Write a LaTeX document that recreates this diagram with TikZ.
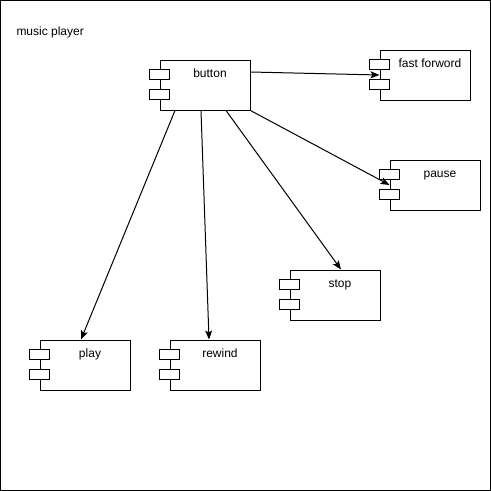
\documentclass[tikz,border=0pt]{standalone}
\usepackage{fontspec}
\setmainfont{Liberation Sans}
\usetikzlibrary{calc,arrows.meta}
\begin{document}
\begin{tikzpicture}[x=1pt,y=-1pt,line width=1pt,
  comp/.style={draw,rectangle,minimum width=90pt,minimum height=50pt,inner sep=0pt,
    label={[anchor=base,yshift=-17.5pt,xshift=5pt,inner sep=0pt,font=\fontsize{12}{14}\selectfont]north:#1}},
  port/.style={draw,fill=white},
  conn/.style={-{Stealth[length=9pt,width=7pt,inset=2pt]}}]
\useasboundingbox (0,0) rectangle (491,491);
\draw (0.5,0.5) rectangle (490.5,490.5);
\node[anchor=base west,font=\fontsize{12}{14}\selectfont,inner sep=0pt] (title) at (16,35) {music player};
\node[comp=button] (btn) at (205,85) {};
\node[comp=fast forword] (ff) at (425,75) {};
\node[comp=pause] (pause) at (435,185) {};
\node[comp=stop] (stop) at (335,295) {};
\node[comp=play] (play) at (85,365) {};
\node[comp=rewind] (rew) at (215,365) {};
\foreach \n in {btn,ff,pause,stop,play,rew}{
  \draw[port] ($(\n.north west)+(-10,10)$) rectangle +(20,10);
  \draw[port] ($(\n.north west)+(-10,30)$) rectangle +(20,10);
}
\draw[conn] ($(btn.east)+(0,-13)$) -- (ff.west);
\draw[conn] (btn.south east) -- (pause.west);
\draw[conn] ($(btn.south)+(21,0)$) -- ($(stop.north)+(6,0)$);
\draw[conn] ($(btn.south)+(-4,0)$) -- ($(rew.north)+(-6,0)$);
\draw[conn] ($(btn.south)+(-30,0)$) -- ($(play.north)+(-4,0)$);
\end{tikzpicture}
\end{document}
